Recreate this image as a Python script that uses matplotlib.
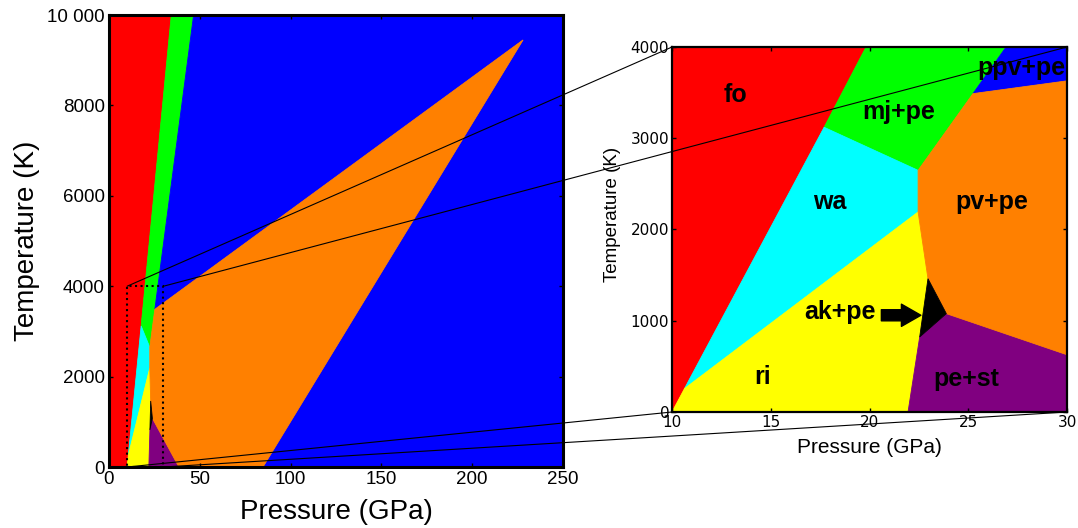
import matplotlib
matplotlib.use('Agg')
import matplotlib.pyplot as plt
from matplotlib.patches import ConnectionPatch, Rectangle

plt.rcParams['font.family'] = ['Liberation Sans', 'DejaVu Sans']

# ---- phase regions (pressure in GPa, temperature in K) ----
fo_P = [0, 10, 17.7, 34.3, 0]
fo_T = [0, 0, 3120, 10000, 10000]
mj_P = [17.7, 22.46, 25.24, 46.6, 34.3]
mj_T = [3120, 2648, 3489, 10000, 10000]
ppv_P = [25.24, 46.6, 250, 250, 84.8, 228]
ppv_T = [3489, 10000, 10000, 0, 0, 9450]
wa_P = [10.63, 17.7, 22.46, 22.46]
wa_T = [256, 3120, 2648, 2192]
ri_P = [10, 10.63, 22.46, 22.96, 22.54, 21.95]
ri_T = [0, 256, 2192, 1461, 822, 0]
blk_P = [22.96, 23.89, 22.54]
blk_T = [1461, 1078, 822]
st_P = [21.95, 22.54, 23.89, 38.5]
st_T = [0, 822, 1078, 0]
pv_P = [22.46, 25.24, 228, 84.8, 38.5, 23.89, 22.96, 22.46]
pv_T = [2648, 3489, 9450, 0, 0, 1078, 1461, 2192]

regions = [
    (fo_P, fo_T, '#ff0000'),
    (mj_P, mj_T, '#00ff00'),
    (ppv_P, ppv_T, '#0000ff'),
    (wa_P, wa_T, '#00ffff'),
    (ri_P, ri_T, '#ffff00'),
    (st_P, st_T, '#800080'),
    (pv_P, pv_T, '#ff8000'),
    (blk_P, blk_T, '#000000'),
]

# labels in the zoomed panel
label_text = ['fo', 'mj+pe', 'ppv+pe', 'wa', 'pv+pe', 'ak+pe', 'ri', 'pe+st']
label_P = [13.2, 21.5, 27.7, 18.0, 26.2, 18.5, 14.6, 24.9]
label_T = [3470, 3290, 3770, 2300, 2300, 1100, 380, 360]
arrow_from = (20.6, 1060)
arrow_to = (22.6, 1060)

main_xticks = [0, 50, 100, 150, 200, 250]
main_yticks = [0, 2000, 4000, 6000, 8000, 10000]
main_yticklabels = ['0', '2000', '4000', '6000', '8000', '10 000']
zoom_xticks = [10, 15, 20, 25, 30]
zoom_yticks = [0, 1000, 2000, 3000, 4000]
zoom_box_P = (10, 30)
zoom_box_T = (0, 4000)

fig = plt.figure(figsize=(10.78, 5.28), dpi=100)
ax1 = fig.add_axes([0.1011, 0.1155, 0.4212, 0.856])
ax2 = fig.add_axes([0.6234, 0.2197, 0.3664, 0.6913])

for ax in (ax1, ax2):
    for P, T, c in regions:
        ax.fill(P, T, fc=c, ec=c, lw=0.6, zorder=1)

# main panel
ax1.set_xlim(0, 250)
ax1.set_ylim(0, 10000)
ax1.set_xticks(main_xticks)
ax1.set_yticks(main_yticks)
ax1.set_yticklabels(main_yticklabels)
ax1.tick_params(direction='in', length=3, width=1, top=True, right=True,
                labelsize=13.5, pad=3)
for s in ax1.spines.values():
    s.set_linewidth(2.2)
    s.set_zorder(5)
ax1.set_xlabel('Pressure (GPa)', fontsize=20)
ax1.set_ylabel('Temperature (K)', fontsize=20)
ax1.xaxis.set_label_coords(0.5, -0.07)
ax1.yaxis.set_label_coords(-0.152, 0.5)
ax1.add_patch(Rectangle((zoom_box_P[0], zoom_box_T[0]),
                        zoom_box_P[1] - zoom_box_P[0], zoom_box_T[1] - zoom_box_T[0],
                        fill=False, ls=':', lw=1.5, ec='black', zorder=4))

# zoom panel
ax2.set_xlim(*zoom_box_P)
ax2.set_ylim(*zoom_box_T)
ax2.set_xticks(zoom_xticks)
ax2.set_yticks(zoom_yticks)
ax2.tick_params(direction='in', length=3, width=1, top=True, right=True,
                labelsize=11, pad=2)
for lab in ax2.get_xticklabels() + ax2.get_yticklabels():
    lab.set_fontfamily('DejaVu Sans')
for s in ax2.spines.values():
    s.set_linewidth(1.6)
    s.set_zorder(5)
ax2.set_xlabel('Pressure (GPa)', fontsize=15)
ax2.set_ylabel('Temperature (K)', fontsize=13.5)
ax2.xaxis.set_label_coords(0.5, -0.07)
ax2.yaxis.set_label_coords(-0.128, 0.54)

for t, P, T in zip(label_text, label_P, label_T):
    ax2.text(P, T, t, ha='center', va='center', fontsize=18,
             fontweight='bold', color='black', zorder=6)
ax2.annotate('', xy=arrow_to, xytext=arrow_from,
             arrowprops=dict(arrowstyle='simple,head_width=0.8,head_length=0.7,tail_width=0.4',
                             fc='black', ec='black', mutation_scale=20,
                             shrinkA=0, shrinkB=0), zorder=6)

# connecting lines
for P in zoom_box_P:
    for T in zoom_box_T:
        con = ConnectionPatch(xyA=(P, T), coordsA=ax1.transData,
                              xyB=(P, T), coordsB=ax2.transData,
                              color='black', lw=0.8, zorder=10)
        fig.add_artist(con)

fig.savefig('out.png', dpi=100)
